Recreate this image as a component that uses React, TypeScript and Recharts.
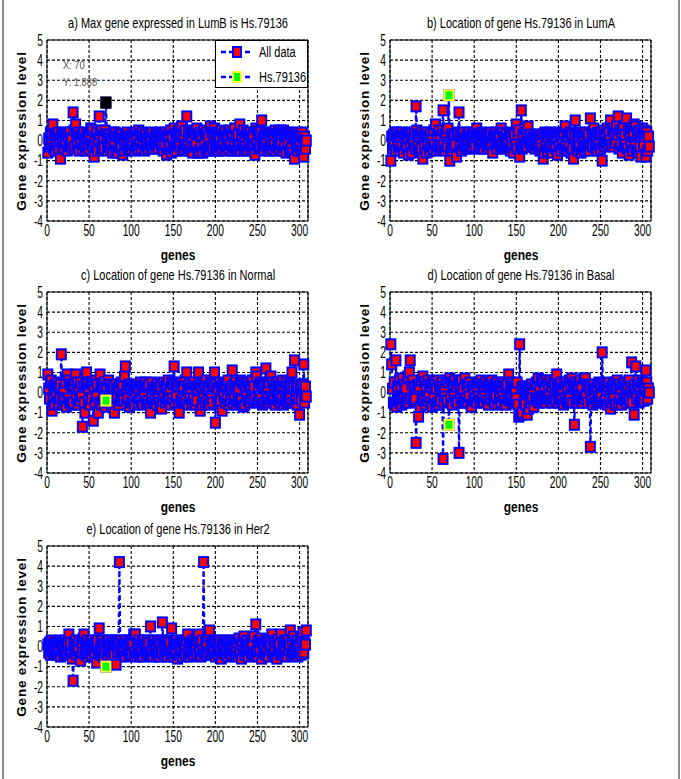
import React from 'react';
import { ComposedChart, Line, Scatter, XAxis, YAxis, CartesianGrid, ReferenceLine } from 'recharts';

const geneTicks = [0, 50, 100, 150, 200, 250, 300];
const levelTicks = [-4, -3, -2, -1, 0, 1, 2, 3, 4, 5];
const markedGene = 70;
const markedName = 'Hs.79136';

const lumB = [
  -0.6, 0.1, -0.3, 0.4, -0.2, 0.3, 0.8, -0.4, 0.2, -0.5,
  0.3, -0.2, 0.4, -0.5, 0.1, -0.9, 0.3, -0.3, 0.2, -0.4,
  0.4, -0.1, 0.3, -0.5, 0.2, -0.3, 0.4, -0.2, 0.1, -0.4,
  1.4, 0.5, -0.3, 0.8, 0.3, -0.2, 0.4, -0.5, 0.2, -0.1,
  0.3, -0.4, 0.4, -0.2, 0.1, -0.5, 0.3, -0.3, 0.2, -0.4,
  0.3, 0.6, -0.2, 0.5, -0.3, -0.8, 0.2, -0.3, 0.4, -0.5,
  0.1, 1.2, 0.3, -0.4, 0.5, -0.3, 0.2, -0.4, 0.5, 1.888,
  0.3, -0.5, 0.2, -0.3, 0.3, -0.4, 0.1, -0.6, 0.4, -0.2,
  0.4, -0.5, 0.2, -0.6, 0.3, -0.3, 0.2, -0.4, 0.3, -0.7,
  0.1, -0.5, 0.3, -0.2, 0.4, -0.4, 0.2, -0.3, 0.1, -0.4,
  0.3, -0.2, 0.2, -0.5, 0.4, -0.3, 0.2, -0.4, 0.5, -0.2,
  0.3, -0.4, 0.4, -0.1, 0.2, -0.5, 0.3, -0.3, 0.1, -0.4,
  0.3, -0.2, 0.2, -0.3, 0.4, -0.4, 0.1, -0.2, 0.3, -0.3,
  0.2, -0.4, 0.4, -0.1, 0.3, -0.3, 0.2, -0.5, 0.3, -0.2,
  0.4, -0.7, 0.2, -0.4, 0.3, -0.3, 0.5, -0.6, 0.2, -0.4,
  0.6, -0.4, 0.3, -0.5, 0.4, -0.2, 0.5, -0.3, 0.4, 0.7,
  -0.5, 0.3, -0.4, 0.5, -0.2, 1.2, -0.3, 0.4, -0.5, 0.3,
  -0.4, 0.2, -0.6, 0.4, -0.3, 0.5, -0.2, 0.6, -0.6, 0.3,
  -0.5, 0.4, -0.3, 0.2, -0.6, 0.5, -0.2, 0.3, -0.5, 0.4,
  -0.4, 0.2, -0.5, 0.7, -0.3, 0.4, -0.4, 0.3, 0.6, -0.5,
  0.4, -0.4, 0.3, -0.5, 0.2, -0.3, 0.5, -0.4, 0.3, -0.2,
  0.4, -0.5, 0.2, -0.3, 0.3, -0.4, 0.5, -0.2, 0.3, -0.5,
  0.4, -0.3, 0.6, -0.5, 0.2, -0.4, 0.3, -0.3, 0.8, -0.5,
  0.3, -0.2, 0.5, -0.4, 0.2, -0.3, 0.4, -0.5, 0.3, -0.2,
  0.4, -0.4, 0.2, -0.5, 0.3, -0.3, -0.7, 0.6, -0.2, 0.4,
  -0.4, 0.5, -0.3, 0.4, 1.0, -0.4, 0.2, -0.5, 0.3, -0.2,
  0.4, -0.4, 0.3, -0.5, 0.2, -0.3, 0.4, -0.4, 0.3, -0.2,
  0.5, -0.5, 0.3, -0.3, 0.4, -0.4, 0.5, -0.2, 0.4, -0.5,
  0.5, -0.3, 0.4, -0.6, 0.3, -0.2, 0.4, -0.5, 0.3, -0.4,
  0.2, -0.6, 0.3, -0.9, 0.3, -0.4, 0.4, -0.5, 0.2, -0.3,
  0.3, -0.5, 0.4, -0.3, -0.8, 0.2, -0.4, 0.0,
];

const lumA = [
  -1.0, 0.2, -0.4, 0.3, -0.2, 0.4, -0.5, 0.4, 0.1, -0.3,
  0.3, -0.5, 0.2, -0.3, 0.4, -0.6, 0.2, -0.2, 0.3, -0.4,
  0.2, -0.7, 0.4, -0.3, 0.3, -0.6, 0.1, -0.2, 0.4, -0.4,
  1.7, 0.5, -0.3, 0.3, -0.5, 0.2, -0.4, 0.4, -0.9, 0.2,
  -0.3, 0.3, -0.6, 0.4, -0.2, 0.2, -0.5, 0.3, -0.3, 0.1,
  -0.4, 0.5, -0.2, 0.8, -0.5, 0.3, -0.3, 0.5, -0.4, 0.2,
  -0.3, 0.5, 1.5, -0.2, 0.3, -0.5, 0.4, -0.3, 0.6, 2.25,
  -1.0, -0.4, 0.3, -0.5, 0.2, -0.3, 0.3, -0.2, -0.8, 0.4,
  0.3, 1.4, -0.3, 0.2, -0.5, 0.3, -0.2, 0.4, -0.4, 0.1,
  -0.3, 0.3, -0.2, 0.4, -0.4, 0.2, -0.3, 0.3, -0.1, 0.4,
  -0.3, 0.2, 0.6, 0.3, -0.4, 0.2, -0.3, 0.4, -0.2, 0.3,
  -0.4, 0.2, -0.1, 0.3, -0.3, 0.2, -0.4, 0.3, -0.2, 0.4,
  -0.3, -0.6, 0.2, 0.3, -0.2, 0.4, -0.4, 0.2, -0.1, 0.3,
  -0.3, 0.6, -0.2, 0.4, -0.4, 0.2, -0.3, 0.3, -0.2, 0.1,
  -0.4, 0.3, -0.5, 0.2, -0.3, 0.4, -0.6, 0.3, -0.2, 0.8,
  -0.4, 0.3, 0.5, -0.8, -0.2, 1.5, -0.4, 0.3, -0.3, 0.6,
  -0.2, 0.4, -0.3, 0.7, 0.2, -0.1, 0.3, -0.2, 0.1, -0.3,
  0.2, -0.4, 0.1, -0.2, 0.3, -0.3, 0.2, -0.5, 0.1, -0.4,
  0.3, -0.9, -0.6, 0.4, -0.3, 0.3, -0.5, 0.2, -0.3, 0.4,
  -0.4, 0.3, -0.6, 0.2, -0.3, 0.3, -0.4, 0.2, -0.7, 0.4,
  -0.3, 0.3, -0.5, 0.2, -0.2, 0.4, -0.4, 0.7, -0.3, 0.3,
  -0.5, 0.2, -0.3, 0.4, -0.6, 0.3, -0.4, -0.9, 0.2, 1.0,
  -0.4, 0.3, -0.5, 0.2, -0.3, 0.4, -0.6, 0.3, -0.4, 0.2,
  -0.5, 0.4, -0.3, 0.2, -0.4, 0.3, -0.5, 1.1, -0.2, 0.4,
  -0.3, 0.6, 0.3, -0.4, 0.2, -0.5, 0.4, -0.2, 0.3, -0.4,
  0.4, -1.0, -0.2, 0.5, -0.3, 0.3, -0.1, 0.6, -0.2, 0.4,
  0.0, 1.0, -0.2, 0.5, 0.6, -0.3, 0.4, -0.1, 0.7, 0.3,
  1.2, -0.4, 0.5, -0.2, 0.4, -0.6, 0.6, -0.3, 0.3, -0.2,
  1.1, -0.4, 0.5, -0.7, 0.4, -0.3, 0.6, -0.5, 0.4, 0.8,
  -0.3, 0.7, -0.5, 0.4, -0.6, 0.5, -0.3, -0.8, 0.4, 0.6,
  -0.2, 0.5, 0.2, -0.8, 0.4, -0.5, 0.2, -0.3,
];

const normal = [
  0.9, 0.2, -0.3, 0.5, 0.6, -0.9, -0.4, 0.3, -0.6, 0.4,
  -0.2, 0.5, -0.5, 0.3, -0.3, 0.4, 1.9, -0.2, -0.6, 0.2,
  -0.4, 0.5, -0.7, 0.9, -0.3, 0.6, -0.5, 0.4, -0.6, 0.3,
  -0.5, 0.4, 0.6, 0.9, -0.3, 0.5, -0.6, 0.2, -0.4, 0.5,
  -0.2, -1.7, 0.3, -0.5, -1.0, 0.4, 1.0, 0.4, -0.4, 0.2,
  -0.6, 0.5, -0.3, 0.4, -1.4, 0.3, -0.5, 0.6, -0.2, 0.4,
  -1.0, -0.5, 0.9, 0.3, -0.6, 0.4, -0.3, 0.5, -0.7, -0.4,
  0.3, -0.5, 0.6, -0.3, 0.4, -0.6, 0.2, -0.4, 0.3, -1.0,
  -0.5, 0.4, -0.3, 0.2, -0.6, 0.3, -0.4, 0.5, -0.3, 0.4,
  -0.4, 0.8, 1.3, -0.6, 0.2, -0.3, 0.4, -0.7, 0.3, -0.5,
  0.2, -0.4, 0.3, -0.6, 0.4, -0.2, 0.3, -0.5, 0.2, -0.3,
  0.5, -0.4, 0.3, -0.6, 0.4, -0.2, 0.5, -0.5, 0.3, -0.4,
  0.4, -0.6, -1.0, -0.3, 0.5, -0.5, 0.2, -0.4, 0.3, -0.6,
  0.4, -0.3, 0.2, -0.5, 0.3, -0.8, -0.4, 0.5, -0.2, 0.3,
  -0.5, 0.4, -0.3, 0.6, -0.4, 0.2, -0.6, 0.5, -0.3, 0.4,
  1.3, -0.5, 0.4, -0.2, 0.3, -0.6, -1.0, 0.4, -0.4, 0.5,
  -0.3, 0.3, -0.5, 0.6, -0.4, 1.0, 0.3, -0.6, 0.4, -0.3,
  0.2, -0.5, 0.4, -0.3, 0.5, -0.6, 0.3, -0.4, 0.2, 1.0,
  0.4, -0.9, 0.3, -0.6, 0.5, -0.3, 0.4, -0.5, 0.6, 0.2,
  -0.4, 0.3, -0.6, 0.5, -0.3, 0.4, -0.5, 0.3, 1.0, -1.5,
  0.4, -0.3, 0.2, -0.5, 0.5, -0.4, 0.3, -0.9, 0.4, -0.2,
  0.3, -0.5, 0.4, -0.3, 0.6, -0.6, 0.2, -0.4, 0.3, 1.1,
  -0.5, 0.4, -0.3, 0.5, -0.6, 0.3, -0.4, 0.2, -0.5, 0.6,
  -0.4, 0.5, -0.7, 0.4, -0.6, 0.3, -0.2, 0.5, -0.4, 0.3,
  -0.5, 0.4, -0.3, 0.6, -0.4, 0.3, -0.3, 1.0, 0.8, -0.5,
  0.3, -0.4, 0.5, -0.3, 0.4, -0.6, 0.3, -0.5, 0.4, 1.2,
  -0.4, 0.3, -0.3, 0.5, -0.5, 0.8, -0.3, 0.5, -0.4, 0.3,
  -0.6, 0.4, -0.3, 0.5, -0.4, 0.3, -0.5, 0.4, -0.3, 0.6,
  -0.6, 0.3, -0.4, 0.5, -0.5, 0.3, -0.4, 0.4, -0.3, 0.3,
  1.0, -0.5, 0.3, 1.6, -0.4, 0.3, -0.6, 0.4, -0.3, -1.1,
  0.3, -0.4, 0.4, 0.4, 1.4, -0.5, 0.3, -0.2,
];

const basal = [
  2.4, 1.4, 0.2, -0.5, 0.5, -0.6, 1.6, -0.7, 0.3, -0.4,
  0.6, -0.5, 0.3, -0.6, 0.7, -0.3, 0.4, -0.5, 0.2, -0.4,
  0.8, -0.5, 1.0, 1.6, -0.3, 0.4, 0.6, -0.4, 0.3, -0.3,
  -2.5, 0.2, 0.4, -1.2, 0.3, -0.7, 0.6, -0.3, 0.8, -0.4,
  0.5, -0.6, 0.3, -0.4, 0.6, -0.2, 0.4, -0.5, 0.3, -0.7,
  0.5, -0.3, 0.4, -0.6, 0.2, -0.5, 0.6, -0.6, 0.3, -0.4,
  0.4, 0.5, -3.3, -0.5, 0.3, -0.2, 0.6, -0.4, 0.5, -1.6,
  0.7, -0.3, 0.5, -0.6, 0.4, -0.2, 0.6, -0.4, 0.3, -0.5,
  0.5, -3.0, 0.4, -0.3, 0.6, -0.5, 0.2, -0.4, 0.7, -0.3,
  0.4, -0.5, 0.3, -0.2, 0.5, -0.6, -0.7, 0.3, -0.4, 0.2,
  -0.3, 0.4, -0.5, 0.3, -0.2, 0.5, -0.4, 0.6, -0.3, 0.4,
  -0.5, 0.3, -0.2, 0.5, -0.4, 0.3, -0.6, 0.4, -0.3, 0.5,
  0.6, -0.4, 0.3, -0.5, 0.4, -0.2, 0.5, -0.6, 0.3, -0.3,
  0.4, -0.5, 0.3, -0.2, 0.5, -0.4, 0.3, -0.6, 0.4, -0.3,
  0.9, -0.4, 0.5, -0.3, 0.4, -0.5, 0.3, -0.4, 0.2, -0.3,
  0.5, -0.6, -1.2, 2.4, -1.1, 0.2, -1.0, 0.3, -0.5, 0.2,
  -0.6, 0.3, -1.1, 0.2, -0.8, 0.3, -0.5, 0.4, -0.3, 0.2,
  -0.7, 0.4, -0.3, 0.5, -0.4, 0.7, -0.5, 0.3, -0.4, 0.6,
  -0.3, 0.5, -0.4, 0.3, -0.5, 0.6, -0.3, 0.4, -0.2, 0.6,
  -0.4, 0.3, -0.5, 0.5, -0.3, 0.4, -0.4, 0.9, 0.3, -0.5,
  0.4, -0.3, 0.5, -0.4, 0.2, -0.6, 0.4, -0.3, 0.5, -0.5,
  0.3, -0.4, 0.6, -0.3, 0.4, 0.7, -0.5, 0.4, -1.6, 0.5,
  -0.4, 0.3, -0.5, 0.4, -0.3, 0.6, -0.4, 0.3, -0.5, 0.7,
  -0.3, 0.7, -0.1, 0.4, -0.5, 0.3, 0.2, -2.7, -0.4, 0.3,
  -0.6, 0.4, -0.3, 0.2, -0.5, 0.3, -0.4, 0.5, -0.3, 0.4,
  -0.2, 2.0, 0.4, -0.5, 0.3, -0.4, 0.2, -0.6, 0.3, 0.5,
  -0.4, -0.8, 0.3, -0.5, 0.4, -0.3, 0.5, -0.6, 0.3, 0.6,
  -0.5, 0.4, -0.3, 0.2, -0.6, 0.4, -0.3, 0.5, -0.4, 0.3,
  -0.5, 0.4, -0.3, 0.6, -0.4, 0.3, 1.5, -0.5, 0.3, -1.1,
  0.4, 1.3, -0.3, 0.4, 0.6, -0.5, 0.3, -0.4, 0.5, -0.3,
  0.4, -0.4, 0.3, 1.1, 0.5, -0.3, 0.2, 0.0,
];

const her2 = [
  0.1, -0.3, 0.2, -0.4, 0.3, -0.2, 0.1, -0.4, 0.2, -0.3,
  0.2, -0.4, 0.1, -0.3, 0.3, -0.5, 0.2, -0.2, 0.1, -0.4,
  0.3, -0.3, 0.2, -0.4, 0.1, 0.6, -0.3, 0.2, -0.4, -0.6,
  -1.7, 0.2, -0.3, 0.3, -0.4, 0.1, -0.2, 0.3, -0.5, -0.7,
  0.2, -0.3, 0.4, 0.6, -0.4, 0.2, -0.3, 0.3, -0.5, 0.1,
  -0.3, 0.2, -0.4, 0.3, -0.2, 0.1, -0.5, 0.2, -0.8, 0.3,
  -0.3, 0.9, -0.4, 0.2, -0.3, 0.3, -0.5, 0.1, -0.3, -1.0,
  0.2, -0.4, 0.3, -0.2, 0.1, -0.5, 0.3, -0.3, 0.2, -0.4,
  0.3, -0.9, 0.2, -0.3, 0.1, 4.2, -0.2, 0.3, -0.4, 0.1,
  -0.3, 0.2, -0.5, 0.3, -0.2, 0.1, -0.4, 0.3, -0.3, 0.2,
  -0.4, 0.2, 0.6, -0.3, 0.6, -0.5, 0.2, -0.3, 0.3, -0.4,
  0.1, -0.3, 0.2, -0.5, 0.3, -0.2, 0.1, -0.4, 0.3, -0.3,
  0.2, -0.4, 1.0, -0.3, 0.2, -0.5, 0.3, -0.2, 0.1, -0.4,
  0.3, -0.3, 0.2, -0.5, 0.1, -0.3, 1.2, 0.3, -0.4, 0.2,
  -0.3, 0.1, -0.5, 0.3, -0.2, 0.2, -0.4, 0.9, -0.3, 0.1,
  -0.5, 0.2, -0.3, 0.3, -0.6, 0.1, -0.4, 0.2, -0.3, 0.3,
  -0.5, 0.2, -0.3, 0.1, -0.4, 0.3, 0.6, -0.3, 0.2, -0.5,
  0.1, -0.3, 0.3, -0.4, 0.2, -0.2, 0.1, -0.4, 0.3, 0.6,
  -0.3, 0.2, -0.5, 0.3, -0.2, 4.2, -0.4, 0.3, -0.3, 0.2,
  -0.4, 0.5, 0.8, -0.3, 0.2, -0.4, 0.1, -0.3, 0.3, -0.5,
  0.2, -0.3, 0.1, -0.4, 0.3, -0.2, -0.6, 0.2, -0.3, 0.1,
  -0.4, 0.3, -0.3, 0.2, -0.5, 0.1, -0.3, 0.3, -0.4, 0.2,
  -0.2, 0.1, -0.4, 0.3, -0.3, 0.2, -0.5, 0.4, -0.3, 0.1,
  -0.6, 0.3, -0.2, 0.5, -0.4, 0.2, -0.3, 0.3, -0.5, 0.1,
  -0.2, 0.3, -0.4, 0.2, -0.3, 0.5, -0.4, 1.1, -0.3, 0.2,
  -0.5, 0.3, -0.2, 0.4, -0.6, 0.2, -0.3, 0.1, -0.4, 0.3,
  -0.3, 0.2, -0.5, 0.3, -0.2, 0.1, 0.6, -0.4, 0.3, -0.3,
  0.2, -0.5, -0.6, 0.3, -0.2, 0.1, -0.4, 0.6, -0.3, 0.2,
  -0.4, 0.3, -0.3, 0.2, -0.5, 0.3, -0.2, 0.1, 0.8, -0.4,
  0.3, -0.3, 0.5, -0.4, 0.2, -0.3, 0.3, -0.5, 0.1, -0.3,
  0.4, -0.4, 0.3, 0.7, -0.3, 0.2, 0.1, 0.8,
];

const font = "'Liberation Sans', Arial, sans-serif";
// the figure's lettering is condensed, so texts get a horizontal squeeze
const SQUEEZE = 0.76;
const TICK_SQUEEZE = 0.64;

// plot box is 261 x 181 px; the y axis column is 47 px wide
const AXIS_W = 47;
const PLOT_W = 261;
const PLOT_H = 181;
const TOP_PAD = 40;
const X_AXIS_H = 44;
const CHART_W = AXIS_W + PLOT_W + 22;
const CHART_H = TOP_PAD + PLOT_H + X_AXIS_H;

const toRows = (values: number[]) => values.map((level, i) => ({ gene: i + 1, level }));

function XTick(props: any) {
  const { x, y, payload } = props;
  return (
    <text transform={`translate(${x},${y}) scale(${TICK_SQUEEZE},1)`} y={15.5} textAnchor="middle" fontSize={16} fontFamily={font} fill="#000">
      {payload.value}
    </text>
  );
}

function YTick(props: any) {
  const { x, y, payload } = props;
  return (
    <text transform={`translate(${x},${y}) scale(${TICK_SQUEEZE},1)`} y={5.8} textAnchor="end" fontSize={16} fontFamily={font} fill="#000">
      {payload.value}
    </text>
  );
}

function SquareDot(props: any) {
  const { cx, cy, index } = props;
  if (cx == null || cy == null) return null;
  return <rect key={`d${index}`} x={cx - 4.5} y={cy - 5} width={9} height={10} fill="#ff0000" stroke="#0000ff" strokeWidth={2} />;
}

function HighlightSquare(props: any) {
  const { cx, cy } = props;
  return <rect x={cx - 4.5} y={cy - 5} width={9} height={10} fill="#00ff00" stroke="#ffff33" strokeWidth={2} />;
}

function DataTip(props: any) {
  const { cx, cy, payload } = props;
  const tx = cx - 43;
  return (
    <g>
      <rect x={cx - 5.5} y={cy - 6} width={11} height={12} fill="#000" />
      <g transform={`translate(${tx},0) scale(0.85,1)`} fontSize={11} fill="#555" fontFamily={font}>
        <text x={0} y={cy - 34}>{`X: ${payload.gene}`}</text>
        <text x={0} y={cy - 17}>{`Y: ${payload.level}`}</text>
      </g>
    </g>
  );
}

const squeezed = (width: number): React.CSSProperties => ({
  position: 'absolute', width, textAlign: 'center', whiteSpace: 'nowrap', color: '#000', fontFamily: font,
});

interface PanelProps {
  plotLeft: number;
  plotTop: number;
  title: string;
  values: number[];
  dataTip?: boolean;
}

function Panel({ plotLeft, plotTop, title, values, dataTip }: PanelProps) {
  const rows = toRows(values);
  const marked = [rows[markedGene - 1]];
  const midX = AXIS_W + PLOT_W / 2;
  return (
    <div style={{ position: 'absolute', left: plotLeft - AXIS_W, top: plotTop - TOP_PAD, width: CHART_W, height: CHART_H }}>
      <div style={{ ...squeezed(360), left: midX - 180, top: TOP_PAD - 26, height: 18, lineHeight: '18px', fontSize: 14.5, transform: `scaleX(${SQUEEZE})` }}>
        {title}
      </div>
      <div
        style={{
          ...squeezed(200), left: AXIS_W - 25 - 100, top: TOP_PAD + PLOT_H / 2 - 9, height: 18, lineHeight: '18px',
          transform: 'rotate(-90deg)', fontWeight: 'bold', fontSize: 13.5, letterSpacing: 0.8,
        }}
      >
        Gene expression level
      </div>
      <div style={{ ...squeezed(100), left: midX - 50, top: TOP_PAD + PLOT_H + 25, height: 18, lineHeight: '18px', fontSize: 15, fontWeight: 'bold', transform: 'scaleX(0.8)' }}>
        genes
      </div>
      <ComposedChart width={CHART_W} height={CHART_H} data={rows} margin={{ top: TOP_PAD, right: 22, left: 0, bottom: 0 }}>
        <CartesianGrid stroke="#000" strokeDasharray="3 2" strokeWidth={1.1} />
        <XAxis
          dataKey="gene"
          type="number"
          domain={[0, 310]}
          ticks={geneTicks}
          interval={0}
          height={X_AXIS_H}
          tickLine={false}
          tickSize={0}
          tickMargin={0}
          axisLine={{ stroke: '#000' }}
          tick={XTick}
        />
        <YAxis
          type="number"
          domain={[-4, 5]}
          ticks={levelTicks}
          interval={0}
          width={AXIS_W}
          tickLine={false}
          tickSize={0}
          tickMargin={4}
          axisLine={{ stroke: '#000' }}
          tick={YTick}
        />
        <ReferenceLine y={5} stroke="#000" />
        <ReferenceLine x={310} stroke="#000" />
        <Line
          dataKey="level"
          type="linear"
          stroke="#0000ff"
          strokeWidth={2.2}
          strokeDasharray="5 3"
          dot={SquareDot}
          activeDot={false}
          isAnimationActive={false}
        />
        <Scatter data={marked} dataKey="level" shape={dataTip ? DataTip : HighlightSquare} isAnimationActive={false} />
      </ComposedChart>
    </div>
  );
}

function LegendBox() {
  const rows = [
    { label: 'All data', fill: '#ff0000', edge: '#0000ff' },
    { label: markedName, fill: '#00ff00', edge: '#ffff33' },
  ];
  return (
    <div style={{ position: 'absolute', left: 215, top: 40, width: 93, height: 48, border: '1px solid #000', background: '#fff', boxSizing: 'border-box' }}>
      <svg width={91} height={46}>
        {rows.map((r, i) => {
          const y = 11 + i * 25;
          return (
            <g key={r.label}>
              <line x1={5} x2={37} y1={y} y2={y} stroke="#0000ff" strokeWidth={2.5} strokeDasharray="5 3" />
              <rect x={17} y={y - 5} width={8} height={10} fill={r.fill} stroke={r.edge} strokeWidth={2} />
              <text transform={`translate(43,${y + 5}) scale(${SQUEEZE},1)`} fontSize={14.5} fontFamily={font} fill="#000">{r.label}</text>
            </g>
          );
        })}
      </svg>
    </div>
  );
}

export default function App() {
  return (
    <div style={{ position: 'absolute', left: 0, top: 0, width: 681, height: 779, background: '#fff', overflow: 'hidden' }}>
      <div style={{ position: 'absolute', left: 2, top: 0, width: 2, height: 779, background: '#8a8a8a' }} />
      <div style={{ position: 'absolute', left: 678, top: 0, width: 2, height: 779, background: '#8a8a8a' }} />
      <Panel plotLeft={47} plotTop={40} title={`a) Max gene expressed in LumB is ${markedName}`} values={lumB} dataTip />
      <Panel plotLeft={390} plotTop={40} title={`b) Location of gene ${markedName} in LumA`} values={lumA} />
      <Panel plotLeft={47} plotTop={292} title={`c) Location of gene ${markedName} in Normal`} values={normal} />
      <Panel plotLeft={390} plotTop={292} title={`d) Location of gene ${markedName} in Basal`} values={basal} />
      <Panel plotLeft={47} plotTop={546} title={`e) Location of gene ${markedName} in Her2`} values={her2} />
      <LegendBox />
    </div>
  );
}
